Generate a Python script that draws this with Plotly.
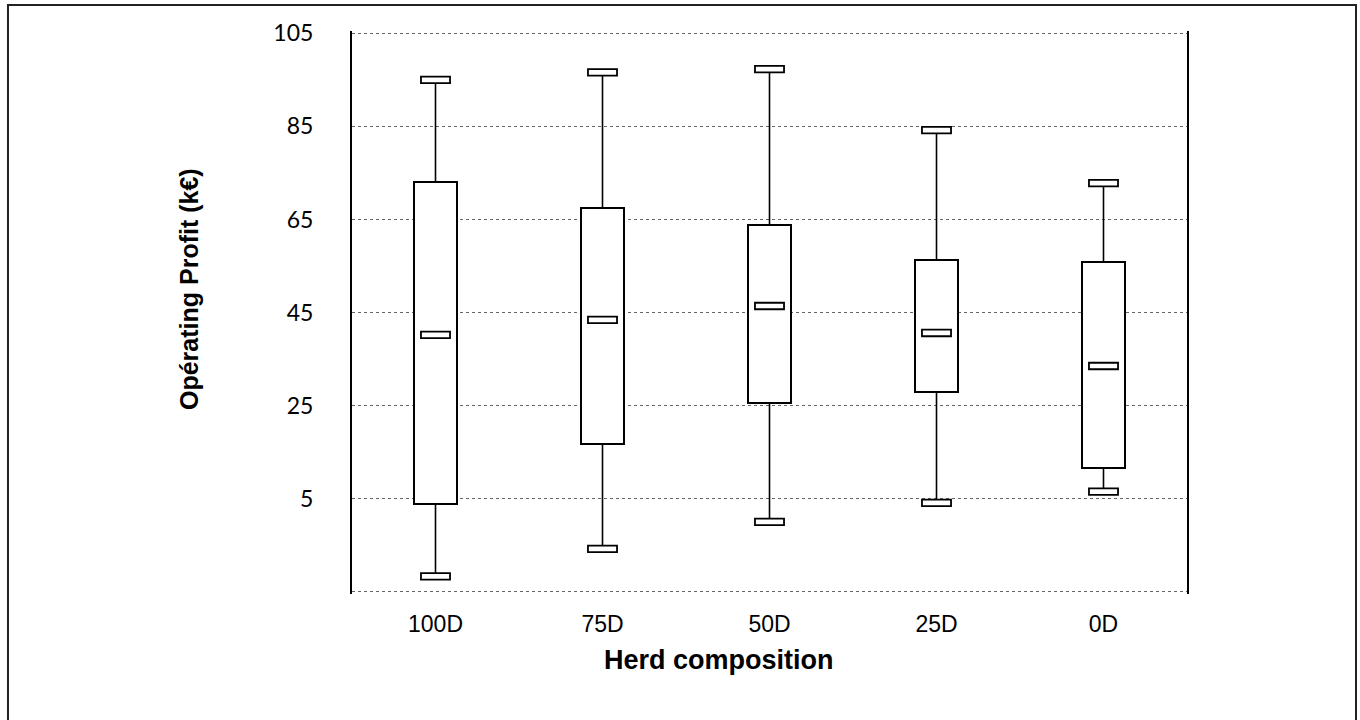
import plotly.graph_objects as go

categories = ["100D", "75D", "50D", "25D", "0D"]
upper = [95.0, 96.6, 97.3, 84.2, 72.8]
q3 = [73.0, 67.4, 63.8, 56.3, 55.8]
median = [40.2, 43.4, 46.4, 40.6, 33.5]
q1 = [3.8, 16.8, 25.6, 27.9, 11.6]
lower = [-11.7, -5.8, 0.0, 4.1, 6.5]

y_ticks = [-15, 5, 25, 45, 65, 85, 105]
y_ticktext = ["", "5", "25", "45", "65", "85", "105"]

BOX_W = 0.263
CAP_W = 0.174
CAP_H = 1.4

fig = go.Figure()

# boxes (q1 -> q3)
fig.add_trace(go.Bar(
    x=categories, y=[b - a for a, b in zip(q1, q3)], base=q1, width=BOX_W,
    marker=dict(color="white", line=dict(color="black", width=2)),
    hoverinfo="skip", showlegend=False,
))

# whiskers
wx, wy = [], []
for c, lo, a, b, hi in zip(categories, lower, q1, q3, upper):
    wx += [c, c, None, c, c, None]
    wy += [b, hi, None, lo, a, None]
fig.add_trace(go.Scatter(
    x=wx, y=wy, mode="lines", line=dict(color="black", width=1.6),
    hoverinfo="skip", showlegend=False,
))

shapes = []
for i in range(len(categories)):
    for v in (upper[i], lower[i], median[i]):
        shapes.append(dict(
            type="rect", xref="x", yref="y", layer="above",
            x0=i - CAP_W / 2, x1=i + CAP_W / 2,
            y0=v - CAP_H / 2, y1=v + CAP_H / 2,
            fillcolor="white", line=dict(color="black", width=1.8),
        ))

# outer frame of the figure
shapes.append(dict(
    type="rect", xref="paper", yref="paper",
    x0=-0.412, x1=1.2024, y0=-0.30, y1=1.046,
    line=dict(color="#222222", width=2), fillcolor="rgba(0,0,0,0)",
    layer="above",
))

fig.update_layout(
    width=1360, height=720,
    margin=dict(l=352, r=173, t=31, b=126),
    paper_bgcolor="white", plot_bgcolor="white",
    barmode="overlay", bargap=0,
    shapes=shapes,
    showlegend=False,
    xaxis=dict(
        type="category", categoryorder="array", categoryarray=categories,
        range=[-0.5, 4.5], showgrid=False, showline=False, zeroline=False,
        ticks="", ticklabelstandoff=14,
        tickfont=dict(family="Liberation Sans, Arial", size=23, color="black"),
    ),
    yaxis=dict(
        range=[-15.5, 105.5], tickvals=y_ticks, ticktext=y_ticktext,
        showgrid=True, gridcolor="#666666", gridwidth=1, griddash="dot",
        zeroline=False, showline=True, linecolor="black", linewidth=2,
        mirror=True, ticks="", ticklabelstandoff=32,
        tickfont=dict(family="Lato, Carlito, sans-serif", size=23, color="black"),
    ),
    annotations=[
        dict(text="<b>Opérating Profit (k€)</b>", xref="paper", yref="paper",
             x=-0.195, y=0.542, xanchor="center", yanchor="middle",
             textangle=-90, showarrow=False,
             font=dict(family="Liberation Sans, Arial", size=25, color="black")),
        dict(text="<b>Herd composition</b>", xref="paper", yref="paper",
             x=0.4395, y=-0.118, xanchor="center", yanchor="middle",
             showarrow=False,
             font=dict(family="Liberation Sans, Arial", size=27, color="black")),
    ],
)

fig.write_html("out.html")
